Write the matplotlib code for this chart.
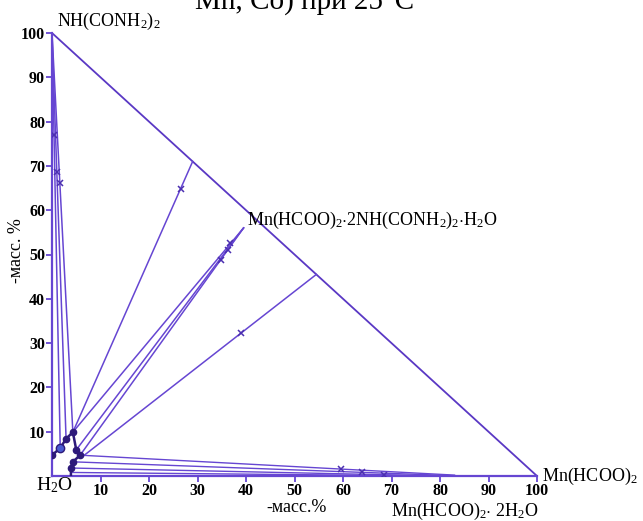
import matplotlib.pyplot as plt

plt.rcParams['font.family'] = ['Liberation Serif', 'DejaVu Serif']
plt.rcParams['mathtext.fontset'] = 'custom'
plt.rcParams['mathtext.rm'] = 'Liberation Serif'
plt.rcParams['mathtext.it'] = 'Liberation Serif:italic'
plt.rcParams['mathtext.bf'] = 'Liberation Serif:bold'

LINE = '#6646d2'
DARK = '#2e1a7a'

# solubility curve, x = mass % Mn(HCOO)2, y = mass % NH(CONH2)2
liq_x = [0, 1.7, 2.9, 4.3, 5.0, 5.8, 4.3, 3.9, 3.9]
liq_y = [4.7, 6.3, 8.4, 9.9, 5.9, 4.7, 3.2, 1.8, 0]

# solid phases
biuret_pt = (0, 100)
compound_pt = (39.5, 56)

# tie lines to NH(CONH2)2
tie_b_start = [(1.7, 6.3), (2.9, 8.4), (4.3, 9.9)]
tie_b_mark_x = [0.4, 1.0, 1.6]
tie_b_mark_y = [77, 68.6, 66.1]

# tie lines to the compound
tie_c_start = [(4.3, 9.9), (5.0, 5.9), (5.8, 4.7)]
tie_c_mark_x = [36.8, 36.2, 34.8]
tie_c_mark_y = [52.5, 51.0, 48.8]

# rays ending on the hypotenuse
ray_start = [(4.3, 9.9), (6.2, 4.3)]
ray_end = [(29, 71), (54.5, 45.5)]
ray_mark_x = [26.5, 38.9]
ray_mark_y = [64.8, 32.2]

# tie lines to Mn(HCOO)2*2H2O
tie_d_start = [(5.8, 4.7), (4.3, 3.2), (3.9, 1.8), (3.9, 0.8)]
tie_d_end = [(83, 0.2), (82, 0.1), (81, 0), (80, 0)]
tie_d_mark_x = [59.5, 64, 68.5]
tie_d_mark_y = [1.5, 0.8, 0.3]

ticks = list(range(10, 101, 10))

fig = plt.figure(figsize=(6.43, 5.21), dpi=100)
ax = fig.add_axes([52 / 643, 45 / 521, 485 / 643, 443 / 521])
ax.set_xlim(0, 100)
ax.set_ylim(0, 100)

for s in ['top', 'right']:
    ax.spines[s].set_visible(False)
for s in ['left', 'bottom']:
    ax.spines[s].set_color(LINE)
    ax.spines[s].set_linewidth(1.6)

# hypotenuse
ax.plot([0, 100], [100, 0], color='#5a38c4', lw=1.3, zorder=2)

for sx, sy in tie_b_start:
    ax.plot([sx, biuret_pt[0]], [sy, biuret_pt[1]], color=LINE, lw=1.1)
for sx, sy in tie_c_start:
    ax.plot([sx, compound_pt[0]], [sy, compound_pt[1]], color=LINE, lw=1.1)
for (sx, sy), (ex, ey) in zip(ray_start, ray_end):
    ax.plot([sx, ex], [sy, ey], color=LINE, lw=1.1)
for (sx, sy), (ex, ey) in zip(tie_d_start, tie_d_end):
    ax.plot([sx, ex], [sy, ey], color=LINE, lw=1.0)

ax.plot(liq_x, liq_y, color=DARK, lw=1.8, zorder=3)
ax.plot(liq_x[1:-1], liq_y[1:-1], 'o', color=DARK, ms=4.5, zorder=4)
ax.plot(liq_x[1], liq_y[1], 'o', mfc='#4a5ad0', mec=DARK, ms=6, zorder=5)
ax.plot(liq_x[0], liq_y[0], 'o', color=DARK, ms=4.5, zorder=4)

for mx, my in [(tie_b_mark_x, tie_b_mark_y), (tie_c_mark_x, tie_c_mark_y),
               (ray_mark_x, ray_mark_y), (tie_d_mark_x, tie_d_mark_y)]:
    ax.plot(mx, my, 'x', color='#4b2fb0', ms=5, mew=1.1, zorder=4)

ax.set_xticks(ticks)
ax.set_yticks(ticks)
ax.set_xticklabels([str(t) for t in ticks], fontweight='bold')
ax.set_yticklabels([str(t) for t in ticks], fontweight='bold')
ax.tick_params(direction='out', length=4, width=1.3, color=LINE,
               labelsize=11.5, pad=1)

lab = dict(fontsize=13, clip_on=False)
ax.text(1.0, 102.5, r'NH(CONH$_2$)$_2$', ha='left', va='center', **lab)
ax.text(40.3, 57.8, r'Mn(HCOO)$_2$$\cdot$2NH(CONH$_2$)$_2$$\cdot$H$_2$O',
        ha='left', va='center', **lab)
ax.text(101, -0.2, r'Mn(HCOO)$_2$', ha='left', va='center', **lab)
ax.text(69.8, -7.9, r'Mn(HCOO)$_2$$\cdot$ 2H$_2$O', ha='left', va='center', **lab)
ax.text(-3.3, -2.0, r'H$_2$O', ha='left', va='center', fontsize=14, clip_on=False)
ax.text(50.4, -7.2, '-масс.%', ha='center', va='center', **lab)
ax.text(-7.3, 50.8, '-масс. %', ha='center', va='center', rotation=90, **lab)

fig.text(0.473, 1 - 9 / 521, 'Mn, Co) при 25°C', ha='center', va='baseline',
         fontsize=21)

fig.savefig('out.png', dpi=100)
